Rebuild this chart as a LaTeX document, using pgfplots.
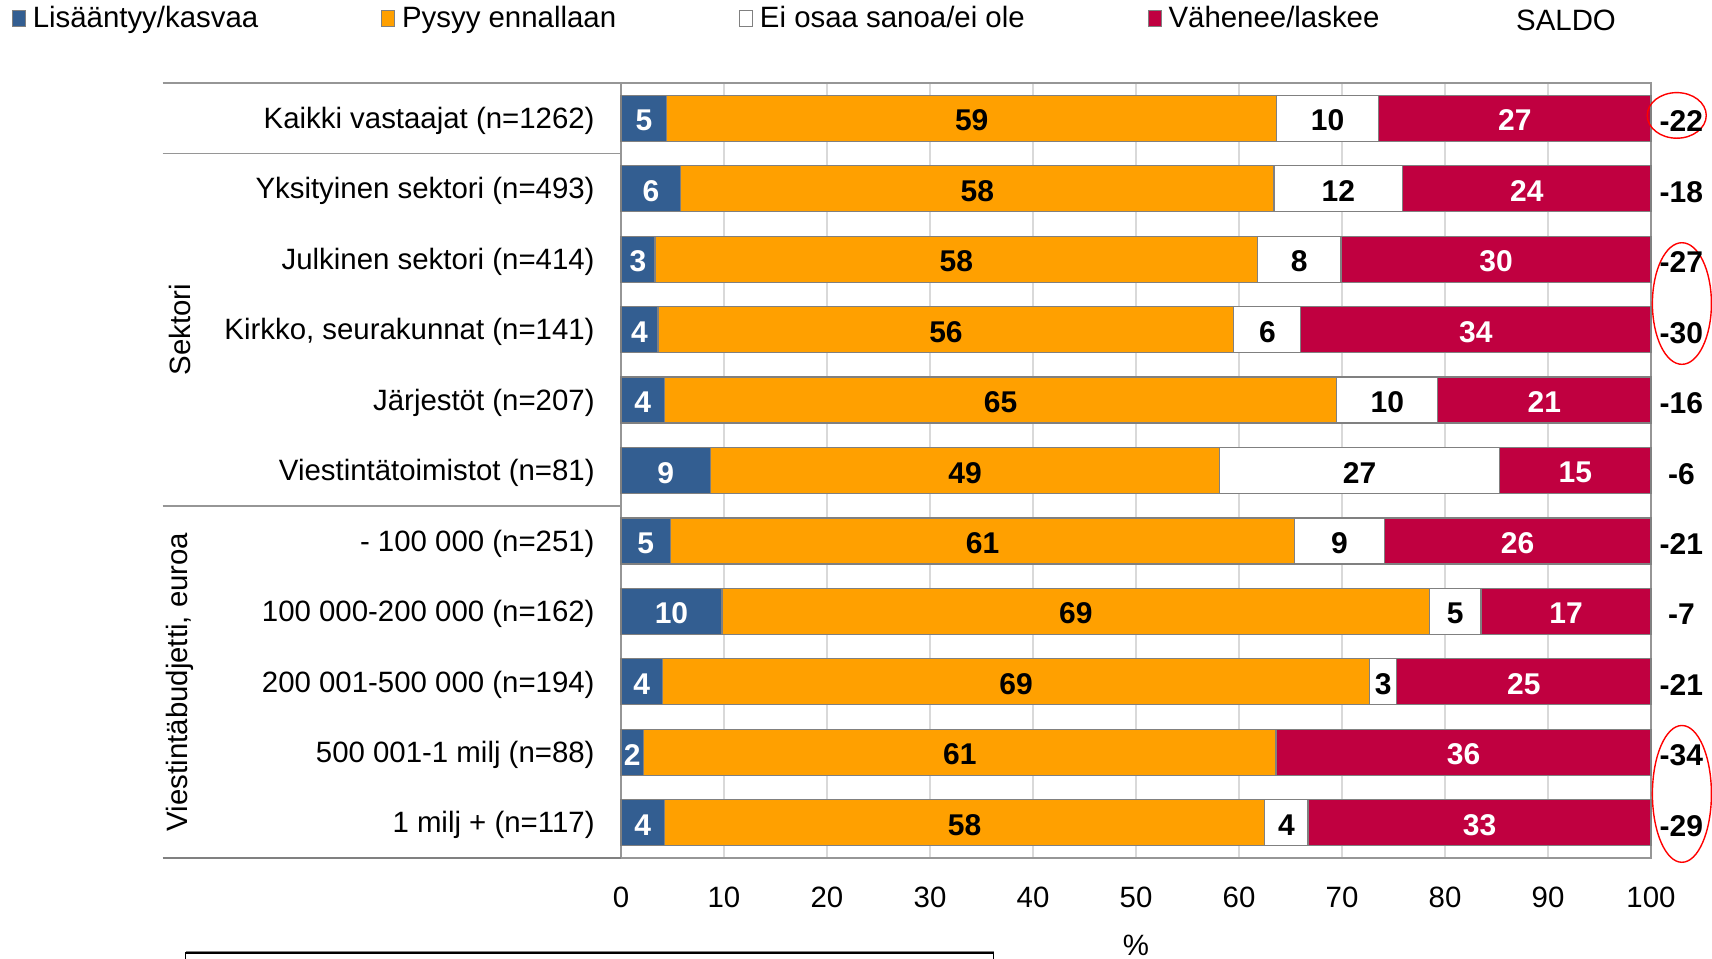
\documentclass[border=0pt]{standalone}
\usepackage{fontspec}
\setmainfont{Liberation Sans}
\usepackage{pgfplots}
\usepackage{pgfplotstable}
\pgfplotsset{compat=1.18}
\definecolor{cblue}{RGB}{51,94,145}
\definecolor{corange}{RGB}{255,160,0}
\definecolor{cred}{RGB}{192,0,64}
\definecolor{outl}{RGB}{128,128,128}
\definecolor{gridc}{RGB}{217,217,217}
\definecolor{axc}{RGB}{150,150,150}
\newcommand\lf{\fontsize{14.7pt}{17pt}\selectfont}
\newcommand\vf{\fontsize{15pt}{18pt}\selectfont\bfseries}

% segment widths (a,b,c,d), printed labels (al..dl), SALDO (s)
\pgfplotstableread{
y a al b bl c cl d dl s
0 4.45 5 59.2 59 9.9 10 26.45 27 -22
1 5.8 6 57.6 58 12.5 12 24.1 24 -18
2 3.3 3 58.5 58 8.1 8 30.1 30 -27
3 3.6 4 55.9 56 6.5 6 34.0 34 -30
4 4.2 4 65.3 65 9.8 10 20.7 21 -16
5 8.7 9 49.4 49 27.2 27 14.7 15 -6
6 4.8 5 60.6 61 8.7 9 25.9 26 -21
7 9.8 10 68.7 69 5.0 5 16.5 17 -7
8 4.0 4 68.7 69 2.6 3 24.7 25 -21
9 2.2 2 61.4 61 0 0 36.4 36 -34
10 4.2 4 58.3 58 4.2 4 33.3 33 -29
}\data

\pgfplotsset{myax/.style={
  at={(310.5pt,50pt)}, anchor=south west,
  width=515pt, height=387.5pt, scale only axis,
  xmin=0, xmax=100, ymin=-0.5, ymax=10.5, y dir=reverse, clip=false}}

\begin{document}
\begin{tikzpicture}
\begin{axis}[myax, xbar stacked, bar width=23pt,
  legend image code/.code={\draw[#1,draw=outl,line width=0.6pt] (0pt,-4pt) rectangle (6.5pt,4pt);},
  xtick={0,10,...,100}, ytick={0,...,10},
  yticklabels={Kaikki vastaajat (n=1262), Yksityinen sektori (n=493), Julkinen sektori (n=414), {Kirkko, seurakunnat (n=141)}, Järjestöt (n=207), Viestintätoimistot (n=81), - 100 000 (n=251), 100 000-200 000 (n=162), 200 001-500 000 (n=194), 500 001-1 milj (n=88), 1 milj + (n=117)},
  xticklabel style={anchor=center, yshift=-19.5pt, font=\lf},
  yticklabel style={anchor=east, inner sep=0pt, xshift=-13pt, yshift=-1.3pt, font=\lf},
  /pgf/number format/assume math mode=true,
  major tick length=0pt, tick style={draw=none},
  xmajorgrids, major grid style={draw=gridc, line width=0.7pt},
  axis line style={draw=axc, line width=0.8pt},
  xlabel={\%}, xlabel style={at={(axis description cs:0.5,0)}, anchor=center, yshift=-43.5pt, font=\lf},
  legend columns=4,
  legend style={at={(axis description cs:-0.5913,1.0831)}, anchor=west, draw=none, fill=none,
    inner sep=0pt, outer sep=0pt, nodes={inner sep=2pt, font=\lf},
    /tikz/every odd column/.append style={column sep=1.3pt},
    /tikz/every even column/.append style={column sep=59.5pt}},
]
\addplot[fill=cblue, draw=outl, line width=0.6pt] table[x=a, y=y] {\data};
\addlegendentry{Lisääntyy/kasvaa}
\addplot[fill=corange, draw=outl, line width=0.6pt] table[x=b, y=y] {\data};
\addlegendentry{Pysyy ennallaan}
\addplot[fill=white, draw=outl, line width=0.6pt] table[x=c, y=y] {\data};
\addlegendentry{Ei osaa sanoa/ei ole}
\addplot[fill=cred, draw=outl, line width=0.6pt] table[x=d, y=y] {\data};
\addlegendentry{Vähenee/laskee}
% table lines on the left
\draw[axc, line width=0.8pt] (axis cs:-44.5,-0.5) -- (axis cs:0,-0.5);
\draw[axc, line width=0.8pt] (axis cs:-44.5,0.5) -- (axis cs:0,0.5);
\draw[axc, line width=0.8pt] (axis cs:-44.5,5.5) -- (axis cs:0,5.5);
\draw[outl, line width=1.1pt] (axis cs:-44.5,10.5) -- (axis cs:0,10.5);
\node[rotate=90, font=\lf] at (axis cs:-42.8,3) {Sektori};
\node[rotate=90, font=\lf] at (axis cs:-42.8,8) {Viestintäbudjetti, euroa};
\end{axis}

\begin{axis}[myax, hide axis]
\addplot[draw=none, nodes near coords, point meta=explicit symbolic,
  every node near coord/.append style={anchor=center, yshift=-1.1pt, font=\vf, text=white}]
  table[x expr=\thisrow{a}/2, y=y, meta=al] {\data};
\addplot[draw=none, nodes near coords, point meta=explicit symbolic,
  every node near coord/.append style={anchor=center, yshift=-1.1pt, font=\vf, text=black}]
  table[x expr=\thisrow{a}+\thisrow{b}/2, y=y, meta=bl] {\data};
\addplot[draw=none, nodes near coords, point meta=explicit symbolic,
  restrict expr to domain={\thisrow{c}}{0.5:200},
  every node near coord/.append style={anchor=center, yshift=-1.1pt, font=\vf, text=black}]
  table[x expr=\thisrow{a}+\thisrow{b}+\thisrow{c}/2, y=y, meta=cl] {\data};
\addplot[draw=none, nodes near coords, point meta=explicit symbolic,
  every node near coord/.append style={anchor=center, yshift=-1.1pt, font=\vf, text=white}]
  table[x expr=\thisrow{a}+\thisrow{b}+\thisrow{c}+\thisrow{d}/2, y=y, meta=dl] {\data};
\addplot[draw=none, nodes near coords, point meta=explicit symbolic,
  every node near coord/.append style={anchor=center, yshift=-1.6pt, font=\vf, text=black}]
  table[x expr=102.95, y=y, meta=s] {\data};
\draw[red, line width=0.7pt] (axis cs:102.5,-0.04) ellipse [x radius=14.75pt, y radius=11.4pt];
\draw[red, line width=0.7pt] (axis cs:103.0,2.63) ellipse [x radius=14.75pt, y radius=30.4pt];
\draw[red, line width=0.7pt] (axis cs:103.0,9.59) ellipse [x radius=14.75pt, y radius=34.2pt];
\end{axis}

\node[font=\lf] at (783pt,469pt) {SALDO};
\draw[outl, line width=0.8pt] (92.8pt,3.3pt) -- (496.8pt,3.3pt);
\draw[black, line width=0.8pt] (92.8pt,-8pt) -- (92.8pt,2.5pt) -- (496.8pt,2.5pt) -- (496.8pt,-8pt);
\pgfresetboundingbox
\useasboundingbox (0,0) rectangle (856pt,479pt);
\end{tikzpicture}
\end{document}
